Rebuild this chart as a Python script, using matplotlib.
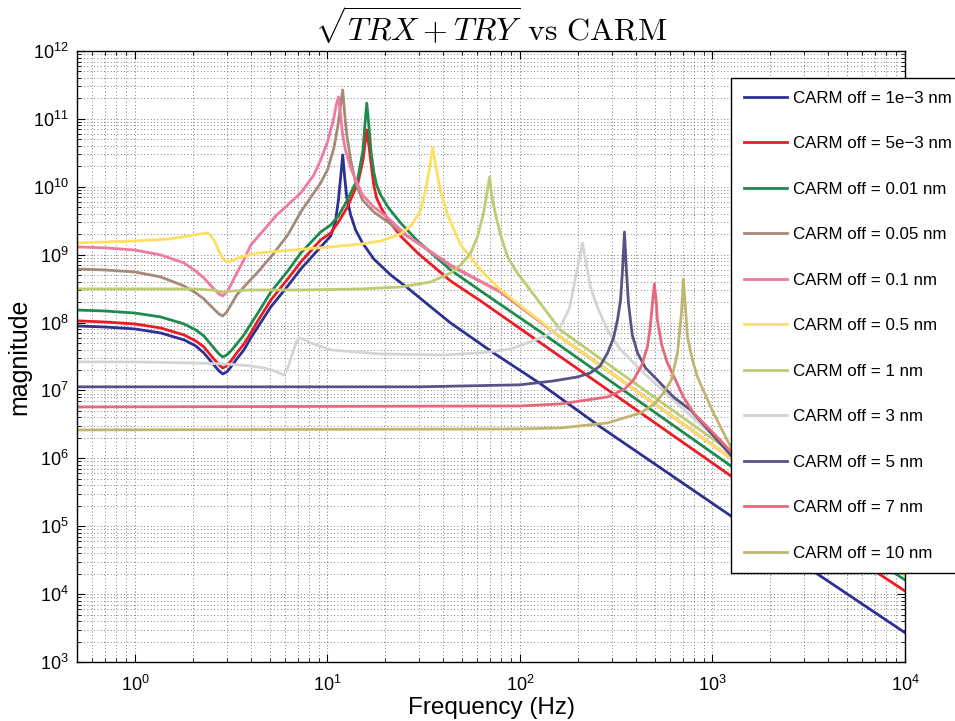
import numpy as np
import matplotlib.pyplot as plt
from matplotlib.ticker import LogLocator, NullFormatter

plt.rcParams['font.family'] = ['Liberation Sans', 'DejaVu Sans']
plt.rcParams['mathtext.fontset'] = 'cm'

# values (frequency in Hz, magnitude)
freq_1em3 = [0.5, 0.70, 1.0, 1.36, 1.80, 2.07, 2.28, 2.57, 2.73, 2.86, 3.00, 3.15, 3.38, 3.68, 4.0,
             4.35, 5.08, 6.22, 7.27, 9.22, 10.4, 11.0, 11.4, 11.7, 12.0, 12.3, 12.6, 13.2, 14.0, 15.2,
             17.4, 21.3, 26.1, 34.4, 43.6, 72.9, 128, 262, 1268, 10000]
mag_1em3 = [8.9e7, 8.6e7, 8.05e7, 7.03e7, 5.55e7, 4.52e7, 3.57e7, 2.38e7, 1.94e7, 1.75e7, 1.87e7, 2.22e7, 2.91e7, 3.95e7, 5.93e7,
            8.61e7, 1.70e8, 3.46e8, 6.15e8, 1.30e9, 1.88e9, 3.03e9, 6.39e9, 1.35e10, 2.94e10, 1.35e10, 6.84e9, 3.85e9, 2.31e9, 1.49e9,
            8.65e8, 5.02e8, 3.23e8, 1.70e8, 9.87e7, 3.57e7, 1.25e7, 2.90e6, 1.37e5, 2.7e3]

freq_5em3 = [0.5, 0.70, 1.0, 1.36, 1.80, 2.07, 2.28, 2.57, 2.73, 2.86, 3.00, 3.15, 3.38, 3.68, 4.0,
             4.35, 5.08, 6.22, 7.27, 9.22, 10.4, 11.4, 12.7, 14.4, 15.3, 15.6, 16.0, 16.4, 16.8, 17.4,
             18.0, 18.9, 20.6, 24.0, 29.4, 43.6, 62.5, 128, 1268, 10000]
mag_5em3 = [1.06e8, 1.02e8, 9.54e7, 8.32e7, 6.57e7, 5.36e7, 4.37e7, 2.91e7, 2.38e7, 2.14e7, 2.30e7, 2.72e7, 3.57e7, 4.84e7, 7.03e7,
            1.06e8, 2.15e8, 4.39e8, 7.80e8, 1.65e9, 2.09e9, 3.03e9, 5.04e9, 1.14e10, 2.48e10, 3.85e10, 6.87e10, 4.13e10, 2.32e10, 1.06e10,
            6.84e9, 5.04e9, 3.24e9, 1.88e9, 1.06e9, 4.10e8, 2.08e8, 5.01e7, 5.32e5, 1.11e4]

freq_001 = [0.5, 0.70, 1.0, 1.36, 1.80, 2.07, 2.28, 2.57, 2.73, 2.86, 3.00, 3.15, 3.38, 3.68, 4.0,
            4.35, 5.08, 6.22, 7.27, 9.22, 10.4, 11.4, 12.7, 14.4, 15.3, 15.6, 16.0, 16.4, 16.8, 17.4,
            18.0, 18.9, 20.6, 24.0, 29.4, 43.6, 62.5, 128, 1268, 10000]
mag_001 = [1.53e8, 1.48e8, 1.38e8, 1.21e8, 9.54e7, 7.78e7, 6.35e7, 4.22e7, 3.45e7, 3.11e7, 3.33e7, 3.82e7, 4.84e7, 6.57e7, 9.54e7,
           1.38e8, 2.82e8, 5.75e8, 1.06e9, 2.16e9, 2.74e9, 3.72e9, 6.39e9, 1.35e10, 3.48e10, 7.35e10, 1.71e11, 8.13e10, 3.48e10, 1.65e10,
           1.06e10, 7.57e9, 5.04e9, 2.93e9, 1.59e9, 5.95e8, 2.92e8, 7.27e7, 7.47e5, 1.62e4]

freq_005 = [0.5, 0.70, 1.0, 1.36, 1.80, 2.07, 2.28, 2.57, 2.73, 2.86, 3.00, 3.15, 3.38, 3.68, 4.35,
            5.08, 6.22, 7.27, 9.22, 10.0, 10.8, 11.3, 11.7, 12.0, 12.3, 12.6, 13.2, 14.0, 15.2, 17.4,
            20.6, 24.0, 29.4, 43.6, 79.3, 162, 1268, 10000]
mag_005 = [6.15e8, 5.95e8, 5.56e8, 4.70e8, 3.46e8, 2.73e8, 2.23e8, 1.58e8, 1.34e8, 1.25e8, 1.43e8, 1.82e8, 2.55e8, 3.34e8, 5.56e8,
           9.25e8, 1.95e9, 4.26e9, 1.14e10, 1.77e10, 3.73e10, 7.60e10, 1.60e11, 2.67e11, 1.14e11, 5.79e10, 2.48e10, 1.14e10, 6.39e9, 4.26e9,
           3.03e9, 2.16e9, 1.49e9, 6.82e8, 2.82e8, 6.14e7, 9.80e5, 1.92e4]

freq_01 = [0.5, 0.70, 1.0, 1.36, 1.80, 2.07, 2.28, 2.57, 2.73, 2.86, 3.00, 3.15, 3.38, 3.68, 4.0,
           4.67, 5.46, 7.27, 8.49, 9.22, 10.0, 10.8, 11.1, 11.4, 11.7, 12.0, 12.4, 13.2, 14.4, 15.2,
           17.4, 20.6, 26.1, 43.6, 79.3, 162, 1268, 10000]
mag_01 = [1.30e9, 1.26e9, 1.17e9, 9.90e8, 7.55e8, 5.75e8, 4.54e8, 3.13e8, 2.64e8, 2.47e8, 2.82e8, 3.58e8, 5.38e8, 8.36e8, 1.39e9,
          2.31e9, 3.85e9, 8.11e9, 1.49e10, 2.48e10, 4.57e10, 1.03e11, 1.60e11, 2.10e11, 1.14e11, 5.79e10, 3.48e10, 1.89e10, 1.06e10, 7.57e9,
          5.04e9, 3.47e9, 1.88e9, 7.05e8, 2.82e8, 6.14e7, 9.80e5, 1.92e4]

freq_05 = [0.5, 1.0, 1.50, 1.88, 2.17, 2.39, 2.49, 2.62, 2.74, 2.90, 3.0, 3.15, 3.42, 4.35, 7.54,
           10.4, 15.1, 18.9, 24.0, 27.4, 30.5, 32.2, 33.8, 35.2, 36.7, 38.5, 42.1, 49.2, 62.5, 79.3,
           162, 1268, 10000]
mag_05 = [1.49e9, 1.59e9, 1.70e9, 1.88e9, 2.02e9, 2.09e9, 1.88e9, 1.49e9, 1.10e9, 8.36e8, 7.80e8, 8.08e8, 8.94e8, 1.06e9, 1.21e9,
          1.30e9, 1.44e9, 1.59e9, 2.02e9, 2.74e9, 4.55e9, 8.38e9, 1.77e10, 3.73e10, 1.89e10, 8.98e9, 3.85e9, 1.39e9, 5.95e8, 3.02e8,
          6.14e7, 9.80e5, 1.92e4]

freq_1 = [0.5, 1.0, 2.0, 2.5, 2.86, 3.19, 4.0, 7.27, 15.0, 24.0, 34.4, 43.6, 49.2, 55.4, 60.3,
          64.7, 67.1, 69.5, 71.3, 74.7, 79.3, 86.2, 96.0, 113, 162, 1268, 10000]
mag_1 = [3.13e8, 3.13e8, 3.13e8, 3.02e8, 2.82e8, 2.92e8, 3.02e8, 3.02e8, 3.13e8, 3.34e8, 3.96e8, 5.38e8, 7.05e8, 1.06e9, 1.88e9,
         4.11e9, 7.57e9, 1.39e10, 7.57e9, 3.85e9, 1.95e9, 9.25e8, 5.56e8, 3.02e8, 7.78e7, 1.20e6, 2.05e4]

freq_3 = [0.5, 1.0, 2.0, 3.0, 4.0, 4.7, 5.30, 5.93, 6.19, 6.49, 6.89, 7.10, 7.49, 8.19, 10.4,
          18.9, 40.1, 62.5, 89.4, 109, 136, 162, 181, 190, 199, 206, 211, 218, 224, 232,
          256, 285, 331, 423, 627, 1268, 10000]
mag_3 = [2.63e7, 2.63e7, 2.54e7, 2.45e7, 2.30e7, 2.14e7, 1.94e7, 1.69e7, 2.07e7, 3.11e7, 5.18e7, 5.93e7, 5.73e7, 5.01e7, 3.95e7,
         3.45e7, 3.33e7, 3.57e7, 4.08e7, 5.01e7, 6.35e7, 8.61e7, 1.64e8, 3.34e8, 6.37e8, 1.06e9, 1.49e9, 8.94e8, 5.95e8, 3.34e8,
         1.53e8, 7.78e7, 4.08e7, 2.00e7, 7.24e6, 1.20e6, 2.27e4]

freq_5 = [0.5, 30, 100, 149, 199, 232, 261, 285, 306, 321, 333, 341, 349, 357, 366,
          383, 408, 449, 517, 627, 768, 1268, 10000]
mag_5 = [1.13e7, 1.13e7, 1.21e7, 1.38e7, 1.58e7, 1.81e7, 2.30e7, 3.57e7, 5.93e7, 1.09e8, 2.15e8, 5.95e8, 2.16e9, 5.95e8, 1.94e8,
         6.57e7, 3.57e7, 2.14e7, 1.43e7, 8.02e6, 5.16e6, 1.05e6, 2.12e4]

freq_7 = [0.5, 100, 162, 285, 350, 389, 430, 459, 473, 488, 499, 511, 517, 545, 583,
          650, 706, 796, 941, 1268, 10000]
mag_7 = [5.71e6, 5.91e6, 6.33e6, 8.02e6, 1.05e7, 1.43e7, 2.38e7, 4.37e7, 7.78e7, 1.94e8, 3.70e8, 1.94e8, 1.09e8, 4.68e7, 2.54e7,
         1.33e7, 8.02e6, 4.67e6, 2.90e6, 1.20e6, 2.27e4]

freq_10 = [0.5, 99.5, 162, 285, 423, 500, 556, 612, 658, 690, 706, 725, 741, 787, 835,
           1011, 1268, 10000]
mag_10 = [2.62e6, 2.71e6, 2.80e6, 3.32e6, 4.67e6, 6.33e6, 9.19e6, 1.43e7, 3.57e7, 1.38e8, 4.39e8, 1.53e8, 6.14e7, 2.81e7, 1.58e7,
          4.67e6, 1.33e6, 2.43e4]

labels = ['CARM off = 1e\u22123 nm', 'CARM off = 5e\u22123 nm', 'CARM off = 0.01 nm',
          'CARM off = 0.05 nm', 'CARM off = 0.1 nm', 'CARM off = 0.5 nm', 'CARM off = 1 nm',
          'CARM off = 3 nm', 'CARM off = 5 nm', 'CARM off = 7 nm', 'CARM off = 10 nm']

freqs = [freq_1em3, freq_5em3, freq_001, freq_005, freq_01, freq_05, freq_1, freq_3, freq_5, freq_7, freq_10]
mags = [mag_1em3, mag_5em3, mag_001, mag_005, mag_01, mag_05, mag_1, mag_3, mag_5, mag_7, mag_10]

colors = ['#2E3192', '#EC1C24', '#1F8A4E', '#A68A78', '#F07AA0', '#FFDF62',
          '#BECB72', '#D4D4D4', '#575384', '#E8677B', '#C0B672']

fig = plt.figure(figsize=(9.55, 7.21), dpi=100)
ax = fig.add_axes([77 / 955, 1 - 662 / 721, (905 - 77) / 955, (662 - 51) / 721])

for f, m, c, lab in zip(freqs, mags, colors, labels):
    ax.loglog(f, m, color=c, lw=2, label=lab, solid_joinstyle='round')

ax.set_xlim(0.5, 1e4)
ax.set_ylim(1e3, 1e12)

# only the decades inside the view get a label
ax.set_xticks(10.0 ** np.arange(0, 5))
ax.set_yticks(10.0 ** np.arange(3, 13))
ax.xaxis.set_minor_locator(LogLocator(base=10, subs=np.arange(2, 10), numticks=200))
ax.yaxis.set_minor_locator(LogLocator(base=10, subs=np.arange(2, 10), numticks=200))
ax.xaxis.set_minor_formatter(NullFormatter())
ax.yaxis.set_minor_formatter(NullFormatter())
ax.set_xlim(0.5, 1e4)
ax.set_ylim(1e3, 1e12)

ax.grid(True, which='both', color='#555555', lw=0.6, ls=(0, (1, 3)))
ax.tick_params(which='both', direction='in', top=True, right=True, labelsize=13)
ax.tick_params(which='major', length=6)
ax.tick_params(which='minor', length=3)
ax.tick_params(axis='x', which='major', pad=9)
ax.tick_params(axis='y', which='major', pad=6)
for s in ax.spines.values():
    s.set_linewidth(1.0)

ax.set_xlabel('Frequency (Hz)', fontsize=17.5, labelpad=2)
ax.set_ylabel('magnitude', fontsize=18, labelpad=1)
ax.set_title(r'$\sqrt{TRX+TRY}\ \mathrm{vs\ CARM}$', fontsize=23, pad=7)

leg = ax.legend(loc='upper left', bbox_to_anchor=(731 / 955, 1 - 78 / 721),
                bbox_transform=fig.transFigure, fontsize=12.2, frameon=True,
                fancybox=False, framealpha=1, edgecolor='black', borderaxespad=0,
                borderpad=0.75, labelspacing=1.8, handlelength=2.55, handletextpad=0.35)
leg.get_frame().set_linewidth(1.0)

fig.savefig('out.png', dpi=100)
